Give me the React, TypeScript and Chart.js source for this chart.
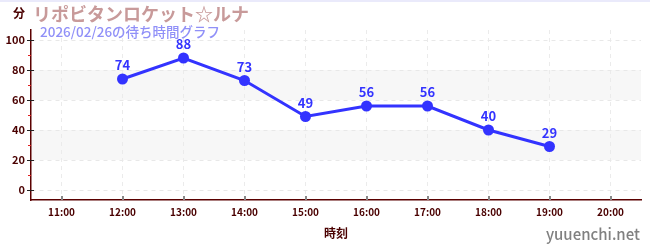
import React, { useEffect, useRef } from "react";
import { Chart, registerables } from "chart.js";

Chart.register(...registerables);

const categories = ["11:00", "12:00", "13:00", "14:00", "15:00", "16:00", "17:00", "18:00", "19:00", "20:00"];
const waitTimes: (number | null)[] = [null, 74, 88, 73, 49, 56, 56, 40, 29, null];
const yTickValues = [0, 10, 20, 30, 40, 50, 60, 70, 80, 90, 100];
const bandRanges: [number, number][] = [[20, 40], [60, 80]];

const FONT = "'Noto Sans CJK JP', 'Noto Sans', sans-serif";
const AXIS_COLOR = "#4a0000";
const LINE_COLOR = "#3333ff";

const decorPlugin = {
  id: "decor",
  beforeDraw(chart: any) {
    const { ctx, chartArea, scales } = chart;
    const y = scales.y;
    ctx.save();
    ctx.fillStyle = "#f7f7f7";
    for (const [a, b] of bandRanges) {
      const top = y.getPixelForValue(b);
      const bot = y.getPixelForValue(a);
      ctx.fillRect(chartArea.left, top, chartArea.right - chartArea.left, bot - top);
    }
    ctx.restore();
  },
  afterDraw(chart: any) {
    const { ctx, chartArea, scales } = chart;
    const y = scales.y;
    const x = scales.x;
    ctx.save();
    for (const v of yTickValues) {
      const py = Math.round(y.getPixelForValue(v)) + 0.5;
      ctx.beginPath();
      if (v % 20 === 0) {
        ctx.strokeStyle = "#222";
        ctx.moveTo(chartArea.left - 4, py);
        ctx.lineTo(chartArea.left + 3, py);
      } else {
        ctx.strokeStyle = "#e02020";
        ctx.moveTo(chartArea.left - 3, py);
        ctx.lineTo(chartArea.left, py);
      }
      ctx.lineWidth = 1;
      ctx.stroke();
    }
    ctx.strokeStyle = "#888";
    ctx.lineWidth = 2;
    for (let i = 0; i < categories.length; i++) {
      const px = Math.round(x.getPixelForValue(i));
      ctx.beginPath();
      ctx.moveTo(px, chartArea.bottom - 4);
      ctx.lineTo(px, chartArea.bottom);
      ctx.stroke();
    }
    ctx.restore();
  },
  afterDatasetsDraw(chart: any) {
    const { ctx } = chart;
    const meta = chart.getDatasetMeta(0);
    ctx.save();
    ctx.fillStyle = LINE_COLOR;
    ctx.font = `bold 13px ${FONT}`;
    ctx.textAlign = "center";
    ctx.textBaseline = "bottom";
    meta.data.forEach((pt: any, i: number) => {
      const v = waitTimes[i];
      if (v == null) return;
      ctx.fillText(String(v), pt.x, pt.y - 7);
    });
    ctx.restore();
  },
};

function ChartView() {
  const ref = useRef<HTMLCanvasElement | null>(null);
  useEffect(() => {
    if (!ref.current) return;
    const chart = new Chart(ref.current, {
      type: "line",
      data: {
        labels: categories,
        datasets: [
          {
            data: waitTimes,
            borderColor: LINE_COLOR,
            backgroundColor: LINE_COLOR,
            borderWidth: 3,
            pointRadius: 5.5,
            pointBackgroundColor: LINE_COLOR,
            pointBorderWidth: 0,
            spanGaps: false,
            tension: 0,
          },
        ],
      },
      options: {
        animation: false,
        responsive: false,
        maintainAspectRatio: false,
        layout: { padding: { left: 0, right: 9, top: 30, bottom: 0 } },
        plugins: { legend: { display: false }, tooltip: { enabled: false }, title: { display: false } },
        scales: {
          x: {
            offset: true,
            grid: {
              offset: false,
              color: "#ebebeb",
              drawTicks: false,
            },
            border: { color: "#5a0000", width: 1.5, dash: [4, 4] },
            ticks: {
              color: AXIS_COLOR,
              font: { family: FONT, size: 10, weight: "bold" },
              padding: 6,
              maxRotation: 0,
            },
            title: {
              display: true,
              text: "時刻",
              color: AXIS_COLOR,
              font: { family: FONT, size: 12, weight: "bold" },
              padding: { top: 6, bottom: 9 },
            },
            afterFit(scale: any) {
              scale.height = 50;
            },
          },
          y: {
            min: -20 / 3,
            max: 320 / 3,
            afterBuildTicks(scale: any) {
              scale.ticks = yTickValues.map((v) => ({ value: v }));
            },
            grid: {
              color: (c: any) => (c.tick && c.tick.value % 20 === 0 ? "#e8e8e8" : "rgba(0,0,0,0)"),
              drawTicks: false,
            },
            border: { color: "#5a0000", width: 1.5, dash: [4, 4] },
            ticks: {
              color: AXIS_COLOR,
              font: { family: FONT, size: 11, weight: "bold" },
              padding: 6,
              callback: (v: any) => (Number(v) % 20 === 0 ? String(v) : ""),
            },
            afterFit(scale: any) {
              scale.width = 31;
            },
          },
        },
      },
      plugins: [decorPlugin],
    });
    return () => chart.destroy();
  }, []);
  return <canvas ref={ref} width={650} height={250} style={{ position: "absolute", left: 0, top: 0 }} />;
}

export default function App() {
  return (
    <div style={{ position: "fixed", left: 0, top: 0, width: 650, height: 250, background: "#fff", overflow: "hidden" }}>
      <div style={{ position: "absolute", left: 0, top: 0, width: 650, height: 2, background: "#eaeafb" }} />
      <ChartView />
      <div style={{ position: "absolute", left: 13, top: 5, fontFamily: FONT, fontSize: 12, fontWeight: 700, color: "#4a0000", lineHeight: "16px" }}>分</div>
      <div style={{ position: "absolute", left: 33, top: 0, fontFamily: FONT, fontSize: 18, fontWeight: 700, color: "#c89a9a", lineHeight: "26px", whiteSpace: "nowrap" }}>
        リポビタンロケット☆ルナ
      </div>
      <div style={{ position: "absolute", left: 40, top: 22, fontFamily: FONT, fontSize: 13.5, fontWeight: 500, color: "#9090f8", lineHeight: "18px", whiteSpace: "nowrap" }}>
        2026/02/26の待ち時間グラフ
      </div>
      <div style={{ position: "absolute", right: 10, top: 223, fontFamily: FONT, fontSize: 15, fontWeight: 500, color: "#808080", lineHeight: "22px", whiteSpace: "nowrap" }}>
        yuuenchi.net
      </div>
    </div>
  );
}
